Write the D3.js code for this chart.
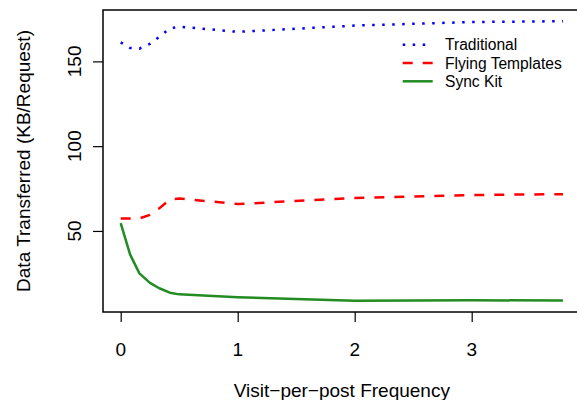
<!DOCTYPE html>
<html>
<head>
<meta charset="utf-8">
<script src="https://cdn.jsdelivr.net/npm/d3@7"></script>
<style>
  html, body { margin: 0; padding: 0; background: #fff; }
  svg text { font-family: "Liberation Sans", Arial, Helvetica, sans-serif; fill: #000; }
</style>
</head>
<body>
<svg id="chart" width="577" height="400"></svg>
<script>
// ---- data ----
const frequency = [0, 0.08, 0.16, 0.25, 0.33, 0.42, 0.5, 1, 2, 3, 3.78];
const traditional = [161.2, 157.9, 157.5, 160.3, 164.5, 169.4, 170.5, 167.4, 171.1, 173.2, 173.7];
const flyingTemplates = [57.4, 57.3, 57.4, 59.5, 63.3, 68.6, 69.1, 65.9, 69.4, 71.2, 71.7];
const syncKit = [54.6, 36.2, 25.0, 19.4, 16.2, 13.6, 12.6, 10.9, 8.8, 9.1, 9.0];
const seriesNames = ["Traditional", "Flying Templates", "Sync Kit"];
const xTicks = [0, 1, 2, 3];
const yTicks = [50, 100, 150];
const xTitle = "Visit\u2212per\u2212post Frequency";
const yTitle = "Data Transferred (KB/Request)";

// ---- layout ----
const svg = d3.select("#chart");
const plot = { left: 103, top: 10, bottom: 312 };

// R-style 4% padding on data range
const xExt = d3.extent(frequency);
const xPad = (xExt[1] - xExt[0]) * 0.04;
const allY = traditional.concat(flyingTemplates, syncKit);
const yExt = d3.extent(allY);
const yPad = (yExt[1] - yExt[0]) * 0.04;
const pxPerX = 117;
const plotRight = plot.left + (xExt[1] - xExt[0] + 2 * xPad) * pxPerX;

const x = d3.scaleLinear().domain([xExt[0] - xPad, xExt[1] + xPad]).range([plot.left, plotRight]);
const y = d3.scaleLinear().domain([yExt[0] - yPad, yExt[1] + yPad]).range([plot.bottom, plot.top]);

const styles = [
  { color: "#0000FF", dash: "2.5,7.5", width: 2.5 },
  { color: "#FF0000", dash: "10,10", width: 2.5 },
  { color: "#228B22", dash: null, width: 2.5 }
];
const series = [traditional, flyingTemplates, syncKit];

// ---- lines ----
const line = d3.line().x((d, i) => x(frequency[i])).y(d => y(d));
series.forEach((vals, k) => {
  const p = svg.append("path")
    .datum(vals)
    .attr("d", line)
    .attr("fill", "none")
    .attr("stroke", styles[k].color)
    .attr("stroke-width", styles[k].width)
    .attr("stroke-linejoin", "round");
  if (styles[k].dash) p.attr("stroke-dasharray", styles[k].dash);
});

// ---- box ----
svg.append("rect")
  .attr("x", plot.left).attr("y", plot.top)
  .attr("width", plotRight - plot.left).attr("height", plot.bottom - plot.top)
  .attr("fill", "none").attr("stroke", "#000").attr("stroke-width", 1.5);

// ---- axes ----
const gx = svg.append("g").attr("transform", `translate(0,${plot.bottom})`)
  .call(d3.axisBottom(x).tickValues(xTicks).tickSize(10).tickFormat(""));
gx.select(".domain").remove();
gx.selectAll(".tick line").attr("stroke", "#000").attr("stroke-width", 1.2);

const gy = svg.append("g").attr("transform", `translate(${plot.left},0)`)
  .call(d3.axisLeft(y).tickValues(yTicks).tickSize(10).tickFormat(""));
gy.select(".domain").remove();
gy.selectAll(".tick line").attr("stroke", "#000").attr("stroke-width", 1.2);

// tick labels
svg.selectAll(".xlab").data(xTicks).enter().append("text")
  .attr("x", d => x(d)).attr("y", 356)
  .attr("text-anchor", "middle").attr("font-size", 19)
  .text(d => d3.format("d")(d));

svg.selectAll(".ylab").data(yTicks).enter().append("text")
  .attr("transform", d => `translate(81,${y(d)}) rotate(-90)`)
  .attr("text-anchor", "middle").attr("font-size", 19)
  .text(d => d);

// axis titles
svg.append("text")
  .attr("x", (plot.left + plotRight) / 2).attr("y", 397)
  .attr("text-anchor", "middle").attr("font-size", 19)
  .text(xTitle);

svg.append("text")
  .attr("transform", `translate(30,${(plot.top + plot.bottom) / 2}) rotate(-90)`)
  .attr("text-anchor", "middle").attr("font-size", 19)
  .text(yTitle);

// ---- legend ----
const legX0 = 402.7, legX1 = 432.7, legTextX = 445;
const legY = [44.7, 63.0, 81.3];
seriesNames.forEach((name, k) => {
  const l = svg.append("line")
    .attr("x1", legX0).attr("x2", legX1)
    .attr("y1", legY[k]).attr("y2", legY[k])
    .attr("stroke", styles[k].color).attr("stroke-width", styles[k].width);
  if (styles[k].dash) l.attr("stroke-dasharray", styles[k].dash);
  svg.append("text")
    .attr("x", legTextX).attr("y", legY[k] + 5.5)
    .attr("font-size", 15.6)
    .text(name);
});
</script>
</body>
</html>
